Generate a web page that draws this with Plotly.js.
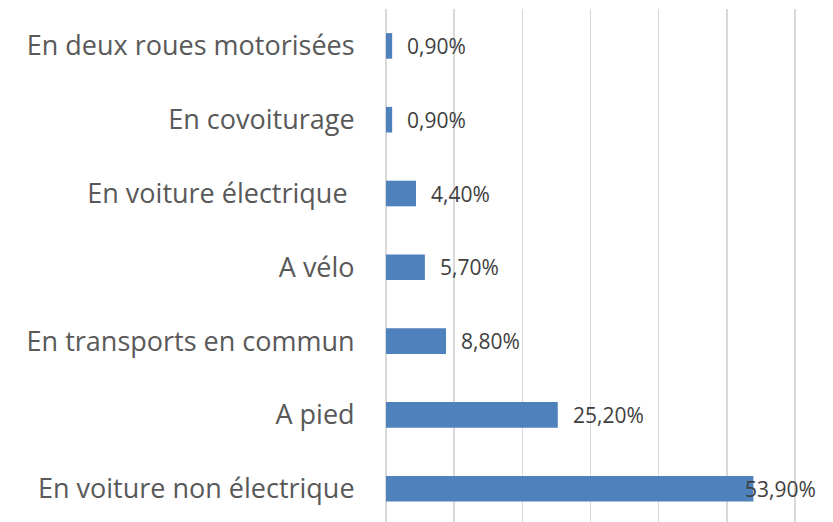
<!DOCTYPE html>
<html>
<head>
<meta charset="utf-8">
<script src="https://cdn.plot.ly/plotly-3.0.1.min.js"></script>
<style>html,body{margin:0;padding:0;background:#fff;}#chart{width:833px;height:522px;}</style>
</head>
<body>
<div id="chart"></div>
<script>
// Data (bottom to top)
var categories = [
  "En voiture non électrique",
  "A pied",
  "En transports en commun",
  "A vélo",
  "En voiture électrique ",
  "En covoiturage",
  "En deux roues motorisées"
];
var values = [53.9, 25.2, 8.8, 5.7, 4.4, 0.9, 0.9];

function fmt(v) { return v.toFixed(2).replace('.', ',') + '%'; }

var annotations = values.map(function (v, i) {
  return {
    x: v, y: categories[i], xref: 'x', yref: 'y',
    text: fmt(v), showarrow: false, xanchor: 'left',
    xshift: v > 50 ? -10 : 13,
    font: {family: '"Open Sans", sans-serif', size: 21, color: '#404040'}
  };
});

var trace = {
  type: 'bar', orientation: 'h',
  x: values, y: categories,
  marker: {color: '#4F81BD', line: {color: '#4F81BD', width: 0}},
  hoverinfo: 'none'
};

var layout = {
  width: 833, height: 522,
  margin: {l: 385, r: 37, t: 9, b: 0, pad: 0},
  paper_bgcolor: '#ffffff', plot_bgcolor: '#ffffff',
  showlegend: false,
  bargap: 0.653,
  xaxis: {
    range: [-0.15, 60.15], tick0: 0, dtick: 10, showticklabels: false,
    showgrid: true, gridcolor: '#D9D9D9', gridwidth: 1.5,
    zeroline: true, zerolinecolor: '#D9D9D9', zerolinewidth: 1.5,
    showline: false, fixedrange: true
  },
  yaxis: {
    type: 'category', range: [-0.451, 6.5],
    showgrid: false, zeroline: false, showline: false,
    ticks: 'outside', ticklen: 24, tickcolor: 'rgba(0,0,0,0)',
    tickfont: {family: '"Open Sans", sans-serif', size: 27, color: '#595959'},
    fixedrange: true
  },
  annotations: annotations
};

Plotly.newPlot('chart', [trace], layout, {displayModeBar: false, staticPlot: true});
</script>
</body>
</html>
